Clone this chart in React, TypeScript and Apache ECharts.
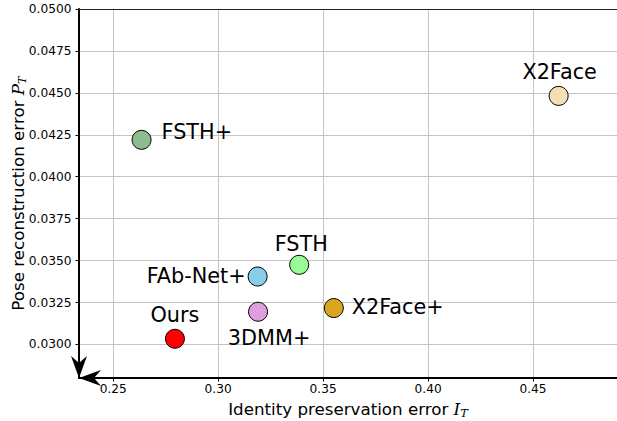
import React, { useEffect, useRef } from "react";
import * as echarts from "echarts";

const methods = ["Ours", "FAb-Net+", "FSTH", "3DMM+", "X2Face+", "X2Face", "FSTH+"];
const identityErr = [0.2794, 0.3188, 0.3386, 0.319, 0.3551, 0.4622, 0.2635];
const poseErr = [0.03034, 0.03405, 0.03475, 0.03195, 0.03217, 0.04482, 0.0422];
const pointColors = ["#ff0000", "#87ceeb", "#98fb98", "#dda0dd", "#daa520", "#f5deb3", "#8fbc8f"];

const xTicks = [0.25, 0.3, 0.35, 0.4, 0.45];
const yTicks = [0.03, 0.0325, 0.035, 0.0375, 0.04, 0.0425, 0.045, 0.0475, 0.05];

// label placement relative to each marker: [align, dx, dy]
const labelPlacement: [string, number, number][] = [
  ["center", 0, -24],
  ["right", -12, -1],
  ["center", 2, -21],
  ["center", 11, 26],
  ["left", 18, -1],
  ["center", 1, -23.5],
  ["left", 20, -8],
];

const FONT = "DejaVu Sans";
const arrowPath = "path://M8,0 L16,22 L8,15 L0,22 Z";

export default function App() {
  const ref = useRef<HTMLDivElement>(null);
  useEffect(() => {
    if (!ref.current) return;
    const chart = echarts.init(ref.current, null, { renderer: "svg" });
    const data = methods.map((name, i) => ({
      name,
      value: [identityErr[i], poseErr[i]],
      itemStyle: { color: pointColors[i] },
      label: {
        align: labelPlacement[i][0],
        offset: [labelPlacement[i][1], labelPlacement[i][2]],
      },
    }));
    const arrowLine = {
      show: true,
      onZero: false,
      lineStyle: { color: "#000", width: 2 },
      symbol: [arrowPath, "none"],
      symbolSize: [16, 22],
      symbolOffset: [11, 0],
    };
    const nameStyle = {
      fontFamily: FONT,
      fontSize: 16.7,
      color: "#000",
      rich: {
        m: { fontFamily: "DejaVu Serif", fontStyle: "italic", fontSize: 16.7, color: "#000" },
        s: { fontFamily: "DejaVu Serif", fontStyle: "italic", fontSize: 11.5, color: "#000", verticalAlign: "bottom", padding: [8, 0, 0, 0] },
      },
    };
    chart.setOption({
      animation: false,
      backgroundColor: "#ffffff",
      textStyle: { fontFamily: FONT },
      grid: { left: 79, top: 9, width: 538, height: 369, containLabel: false, outerBoundsMode: "none" },
      xAxis: [
        {
          type: "value",
          position: "bottom",
          min: 0.2337,
          max: 0.49,
          name: "Identity preservation error {m|I}{s|T}",
          nameLocation: "middle",
          nameGap: 21,
          nameMoveOverlap: false,
          nameTextStyle: nameStyle,
          axisLine: arrowLine,
          axisTick: { show: true, inside: false, length: 3.5, customValues: xTicks, lineStyle: { color: "#000", width: 1 } },
          axisLabel: {
            show: true,
            customValues: xTicks,
            margin: 5,
            fontSize: 12.2,
            fontFamily: FONT,
            color: "#000",
            formatter: (v: number) => v.toFixed(2),
          },
          splitLine: { show: true, lineStyle: { color: "#c4c4c4", width: 1 } },
        },
        {
          type: "value",
          position: "top",
          min: 0.2337,
          max: 0.49,
          axisLine: { show: true, onZero: false, lineStyle: { color: "#222", width: 1.2 } },
          axisTick: { show: false },
          axisLabel: { show: false },
          splitLine: { show: false },
        },
      ],
      yAxis: {
        type: "value",
        min: 0.028,
        max: 0.05,
        name: "Pose reconstruction error {m|P}{s|T}",
        nameLocation: "middle",
        nameGap: 51,
        nameMoveOverlap: false,
        nameTextStyle: nameStyle,
        axisLine: arrowLine,
        axisTick: { show: true, inside: false, length: 3.5, customValues: yTicks, lineStyle: { color: "#000", width: 1 } },
        axisLabel: {
          show: true,
          customValues: yTicks,
          margin: 7.5,
          fontSize: 12.2,
          fontFamily: FONT,
          color: "#000",
          formatter: (v: number) => v.toFixed(4),
        },
        splitLine: { show: true, lineStyle: { color: "#c4c4c4", width: 1 } },
      },
      series: [
        {
          type: "scatter",
          symbol: "circle",
          symbolSize: 19,
          itemStyle: { borderColor: "#000", borderWidth: 1, opacity: 1 },
          label: {
            show: true,
            position: "inside",
            formatter: "{b}",
            fontFamily: FONT,
            fontSize: 20.8,
            color: "#000",
            verticalAlign: "middle",
          },
          emphasis: { disabled: true },
          data,
          z: 5,
        },
      ],
    });
    return () => chart.dispose();
  }, []);
  return <div ref={ref} style={{ position: "fixed", left: 0, top: 0, width: 617, height: 421 }} />;
}
